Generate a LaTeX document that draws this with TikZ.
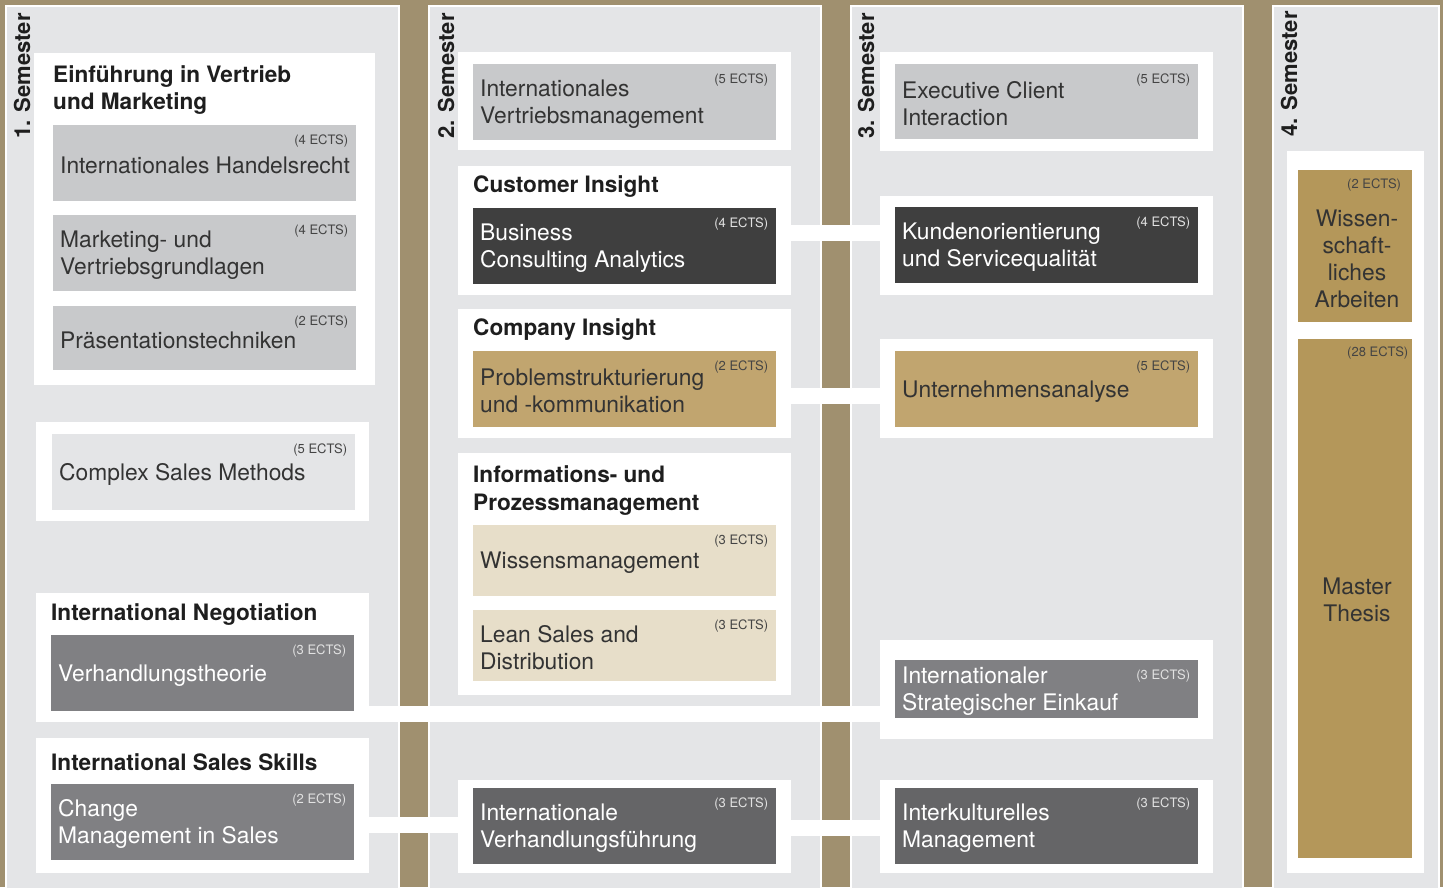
\documentclass[tikz,border=0pt]{standalone}
\usepackage{fontspec}
\setmainfont{TeX Gyre Heros}
\usetikzlibrary{calc}
\definecolor{bgbrown}{HTML}{A0906F}
\definecolor{panelgray}{HTML}{E4E5E7}
\definecolor{lightmodc}{HTML}{C8C9CB}
\definecolor{darkmodc}{HTML}{3F3F3F}
\definecolor{midmodc}{HTML}{808083}
\definecolor{grmodc}{HTML}{656567}
\definecolor{tanmodc}{HTML}{C1A56F}
\definecolor{goldmodc}{HTML}{B4975A}
\definecolor{beigemodc}{HTML}{E7DEC9}
\definecolor{titlec}{HTML}{1E1E1E}
\definecolor{darktxtc}{HTML}{333333}
\definecolor{ectsdark}{HTML}{444444}
\definecolor{ectslight}{HTML}{E2E2E2}
\tikzset{
  panel/.style={anchor=north west, inner sep=0pt, fill=panelgray, draw=white, line width=2pt},
  wbox/.style={anchor=north west, inner sep=0pt, fill=white, draw=none},
  modbox/.style={anchor=north west, inner sep=0pt, draw=none},
  band/.style={draw=white, line width=16pt},
  semlabel/.style={font=\fontsize{22}{26}\selectfont\bfseries, text=titlec, inner sep=0pt, rotate=90, anchor=base west},
  titletext/.style={font=\fontsize{22.6}{27.5}\selectfont\bfseries, text=titlec, inner sep=0pt, anchor=base west, align=left},
  modtext/.style={font=\fontsize{22.8}{27}\selectfont, inner sep=0pt, align=left},
  ectstext/.style={font=\fontsize{13}{15}\selectfont, inner sep=0pt},
  lightmod/.style={fill=lightmodc}, lighttxt/.style={text=darktxtc}, lightects/.style={text=ectsdark},
  palemod/.style={fill=panelgray}, paletxt/.style={text=darktxtc}, paleects/.style={text=ectsdark},
  darkmod/.style={fill=darkmodc}, darktxt/.style={text=white}, darkects/.style={text=ectslight},
  midmod/.style={fill=midmodc}, midtxt/.style={text=white}, midects/.style={text=ectslight},
  grmod/.style={fill=grmodc}, grtxt/.style={text=white}, grects/.style={text=ectslight},
  tanmod/.style={fill=tanmodc}, tantxt/.style={text=darktxtc}, tanects/.style={text=ectsdark},
  beigemod/.style={fill=beigemodc}, beigetxt/.style={text=darktxtc}, beigeects/.style={text=ectsdark},
}
\newcommand\Mod[8]{%
  \node[modbox, #6mod, minimum width=#4pt, minimum height=#5pt] (#1) at (#2,#3) {};
  \node[modtext, #6txt, anchor=west] (#1t) at ([xshift=7pt,yshift=-2pt]#1.west) {#7};
  \node[ectstext, #6ects, anchor=north east] (#1e) at ([xshift=-8pt,yshift=-10pt]#1.north east) {#8};
}
\begin{document}
\begin{tikzpicture}[x=1pt, y=-1pt]
\useasboundingbox (0,0) rectangle (1443,887);
\clip (0,0) rectangle (1443,887);
\fill[bgbrown] (0,0) rectangle (1443,887);

% panels
\node[panel, minimum width=393pt, minimum height=895pt] (P1) at (5,5) {};
\node[panel, minimum width=392pt, minimum height=895pt] (P2) at (428,5) {};
\node[panel, minimum width=392pt, minimum height=895pt] (P3) at (850,5) {};
\node[panel, minimum width=166pt, minimum height=895pt] (P4) at (1272,5) {};

% semester labels
\node[semlabel] (S1) at (30,139) {1. Semester};
\node[semlabel] (S2) at (454,139) {2. Semester};
\node[semlabel] (S3) at (874,139) {3. Semester};
\node[semlabel] (S4) at (1297,137) {4. Semester};

% white boxes
\node[wbox, minimum width=341pt, minimum height=332pt] (W1a) at (34,53) {};
\node[wbox, minimum width=333pt, minimum height=99pt] (W1b) at (36,422) {};
\node[wbox, minimum width=333pt, minimum height=129pt] (W1c) at (36,593) {};
\node[wbox, minimum width=333pt, minimum height=135pt] (W1d) at (36,738) {};
\node[wbox, minimum width=333pt, minimum height=98pt] (W2a) at (458,52) {};
\node[wbox, minimum width=333pt, minimum height=129pt] (W2b) at (458,166) {};
\node[wbox, minimum width=333pt, minimum height=129pt] (W2c) at (458,309) {};
\node[wbox, minimum width=333pt, minimum height=242pt] (W2d) at (458,453) {};
\node[wbox, minimum width=333pt, minimum height=93pt] (W2e) at (458,780) {};
\node[wbox, minimum width=333pt, minimum height=99pt] (W3a) at (880,52) {};
\node[wbox, minimum width=333pt, minimum height=99pt] (W3b) at (880,196) {};
\node[wbox, minimum width=333pt, minimum height=99pt] (W3c) at (880,339) {};
\node[wbox, minimum width=333pt, minimum height=99pt] (W3d) at (880,640) {};
\node[wbox, minimum width=333pt, minimum height=93pt] (W3e) at (880,780) {};
\node[wbox, minimum width=137pt, minimum height=722pt] (W4) at (1287,151) {};

% connector bands
\coordinate (y1) at (0,233);
\coordinate (y2) at (0,396);
\coordinate (y3) at (0,714);
\coordinate (y4) at (0,825);
\coordinate (y5) at (0,828);
\draw[band] (W2b.east |- y1) -- (W3b.west |- y1);
\draw[band] (W2c.east |- y2) -- (W3c.west |- y2);
\draw[band] (W1c.east |- y3) -- (W3d.west |- y3);
\draw[band] (W1d.east |- y4) -- (W2e.west |- y4);
\draw[band] (W2e.east |- y5) -- (W3e.west |- y5);

% titles (anchor base = baseline of the last line)
\node[titletext] (t1) at (53,109.5) {Einführung in Vertrieb\\und Marketing};
\node[titletext] (t2) at (51,620) {International Negotiation};
\node[titletext] (t3) at (51,770) {International Sales Skills};
\node[titletext] (t4) at (473,192) {Customer Insight};
\node[titletext] (t5) at (473,335) {Company Insight};
\node[titletext] (t6) at (473,510) {Informations- und\\Prozessmanagement};

% modules
\Mod{m1}{53}{125}{303}{76}{light}{Internationales Handelsrecht}{(4 ECTS)}
\Mod{m2}{53}{215}{303}{76}{light}{Marketing- und\\Vertriebsgrundlagen}{(4 ECTS)}
\Mod{m3}{53}{306}{303}{64}{light}{Präsentationstechniken}{(2 ECTS)}
\Mod{m4}{52}{434}{303}{76}{pale}{Complex Sales Methods}{(5 ECTS)}
\Mod{m5}{51}{635}{303}{76}{mid}{Verhandlungstheorie}{(3 ECTS)}
\Mod{m6}{51}{784}{303}{76}{mid}{Change\\Management in Sales}{(2 ECTS)}
\Mod{m7}{473}{64}{303}{76}{light}{Internationales\\Vertriebsmanagement}{(5 ECTS)}
\Mod{m8}{473}{208}{303}{76}{dark}{Business\\Consulting Analytics}{(4 ECTS)}
\Mod{m9}{473}{351}{303}{76}{tan}{Problemstrukturierung\\und -kommunikation}{(2 ECTS)}
\Mod{m10}{473}{525}{303}{71}{beige}{Wissensmanagement}{(3 ECTS)}
\Mod{m11}{473}{610}{303}{71}{beige}{Lean Sales and\\Distribution}{(3 ECTS)}
\Mod{m12}{473}{788}{303}{76}{gr}{Internationale\\Verhandlungsführung}{(3 ECTS)}
\Mod{m13}{895}{64}{303}{75}{light}{Executive Client\\Interaction}{(5 ECTS)}
\Mod{m14}{895}{207}{303}{76}{dark}{Kundenorientierung\\und Servicequalität}{(4 ECTS)}
\Mod{m15}{895}{351}{303}{76}{tan}{Unternehmensanalyse}{(5 ECTS)}
\Mod{m16}{895}{660}{303}{58}{mid}{Internationaler\\Strategischer Einkauf}{(3 ECTS)}
\Mod{m17}{895}{788}{303}{76}{gr}{Interkulturelles\\Management}{(3 ECTS)}

% semester 4
\node[modbox, fill=goldmodc, minimum width=114pt, minimum height=152pt] (m18) at (1298,170) {};
\node[modtext, text=darktxtc, align=center] (m18t) at (1357,259) {Wissen-\\schaft-\\liches\\Arbeiten};
\node[ectstext, text=ectsdark, anchor=north west] (m18e) at (1347,179) {(2 ECTS)};
\node[modbox, fill=goldmodc, minimum width=114pt, minimum height=519pt] (m19) at (1298,339) {};
\node[modtext, text=darktxtc, align=center] (m19t) at (1357,600) {Master\\Thesis};
\node[ectstext, text=ectsdark, anchor=north west] (m19e) at (1347,347) {(28 ECTS)};
\end{tikzpicture}
\end{document}
